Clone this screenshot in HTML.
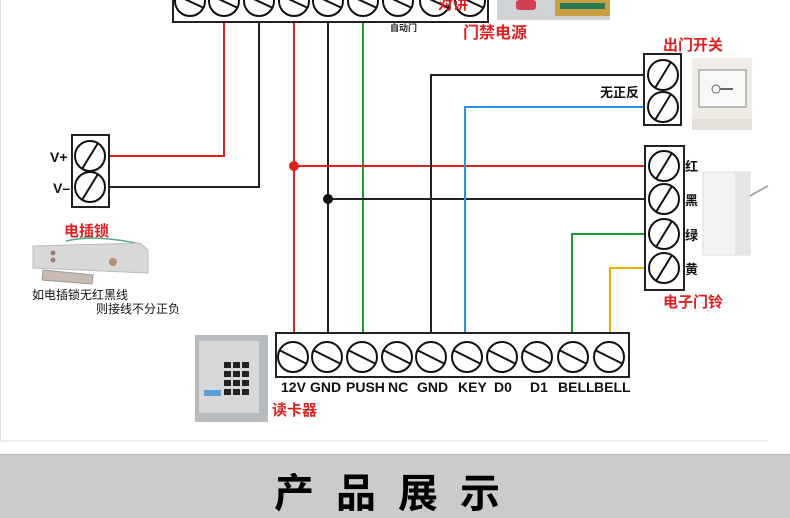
<!DOCTYPE html>
<html><head><meta charset="utf-8"><style>
html,body{margin:0;padding:0;background:#fff;}
body{width:790px;height:518px;overflow:hidden;position:relative;font-family:"Liberation Sans","Noto Sans CJK SC",sans-serif;}
svg{position:absolute;left:0;top:0;}
</style></head><body>
<svg width="790" height="518" viewBox="0 0 790 518" xmlns="http://www.w3.org/2000/svg" font-family="Liberation Sans, Noto Sans CJK SC, sans-serif">
<rect x="0" y="0" width="790" height="518" fill="#fff"/>
<line x1="0.5" y1="0" x2="0.5" y2="441" stroke="#ddd"/>
<line x1="0" y1="441" x2="768" y2="441" stroke="#e6e6e6" stroke-width="1.5"/>
<rect x="0" y="454" width="790" height="64" fill="#cbcbcb"/>
<line x1="0" y1="454.5" x2="790" y2="454.5" stroke="#bdbdbd"/>
<text x="398" y="507" font-size="40" font-weight="bold" text-anchor="middle" letter-spacing="22" fill="#000" font-family="Noto Sans CJK SC, sans-serif">产品展示</text>

<!-- wires -->
<g fill="none" stroke-width="2">
<polyline points="224,22 224,156 105,156" stroke="#e02020"/>
<polyline points="259,22 259,187 105,187" stroke="#222"/>
<line x1="294" y1="22" x2="294" y2="342" stroke="#e02020"/>
<line x1="328" y1="22" x2="328" y2="342" stroke="#222"/>
<line x1="363" y1="22" x2="363" y2="342" stroke="#1a9a2a"/>
<line x1="294" y1="166" x2="650" y2="166" stroke="#e02020"/>
<line x1="328" y1="199" x2="650" y2="199" stroke="#222"/>
<polyline points="431,342 431,75 650,75" stroke="#222"/>
<polyline points="465,342 465,107 650,107" stroke="#2a90e0"/>
<polyline points="572,342 572,234 650,234" stroke="#1a9a2a"/>
<polyline points="610,342 610,268 650,268" stroke="#f0b000"/>
</g>
<circle cx="294" cy="166" r="5" fill="#e02020"/>
<circle cx="328" cy="199" r="5" fill="#111"/>

<!-- top terminal strip -->
<rect x="173" y="-5" width="315" height="27" fill="#fff" stroke="#222" stroke-width="2"/>
<g fill="#fff" stroke="#111" stroke-width="2">
<circle cx="190" cy="1" r="15"/><circle cx="224" cy="1" r="15"/><circle cx="259" cy="1" r="15"/><circle cx="294" cy="1" r="15"/><circle cx="328" cy="1" r="15"/><circle cx="363" cy="1" r="15"/><circle cx="398" cy="1" r="15"/><circle cx="435" cy="1" r="15"/><circle cx="470" cy="1" r="15"/>
</g>
<g stroke="#111" stroke-width="2">
<line x1="176" y1="-5" x2="204" y2="8"/><line x1="210" y1="-5" x2="238" y2="8"/><line x1="245" y1="-5" x2="273" y2="8"/><line x1="280" y1="-5" x2="308" y2="8"/><line x1="314" y1="-5" x2="342" y2="8"/><line x1="349" y1="-5" x2="377" y2="8"/><line x1="384" y1="-5" x2="412" y2="8"/><line x1="421" y1="-5" x2="449" y2="8"/><line x1="456" y1="-5" x2="484" y2="8"/>
</g>
<text x="438" y="9" font-size="15" font-weight="bold" fill="#e02020">对讲</text>
<text x="390" y="31" font-size="9" font-weight="bold" fill="#222">自动门</text>
<text x="463" y="38" font-size="16" font-weight="bold" fill="#e02020">门禁电源</text>
<!-- power supply image -->
<rect x="497" y="0" width="113" height="20" fill="#cfd3d6"/>
<rect x="516" y="0" width="20" height="10" rx="3" fill="#d04050"/>
<rect x="555" y="0" width="55" height="16" fill="#c8a040"/>
<rect x="560" y="3" width="45" height="6" fill="#2a7a5a"/>

<!-- V+/V- -->
<rect x="72" y="135" width="37" height="72" fill="#fff" stroke="#222" stroke-width="2"/>
<g fill="none" stroke="#111" stroke-width="2">
<circle cx="90" cy="156" r="15"/><circle cx="90" cy="187" r="15"/>
<line x1="82" y1="169" x2="98" y2="143"/><line x1="82" y1="200" x2="98" y2="174"/>
</g>
<text x="50" y="162" font-size="14" font-weight="bold" fill="#111">V+</text>
<text x="53" y="193" font-size="14" font-weight="bold" fill="#111">V–</text>

<!-- lock -->
<text x="64" y="236" font-size="15" font-weight="bold" fill="#e02020">电插锁</text>
<path d="M66 241 Q95 234 140 244" stroke="#5a8" stroke-width="1.5" fill="none"/>
<path d="M33 246 L140 243 L148 250 L148 273 L33 268 Z" fill="#d8d8d8" stroke="#bbb"/>
<circle cx="53" cy="253" r="2.5" fill="#a08070"/><circle cx="53" cy="260" r="2.5" fill="#a08070"/>
<circle cx="113" cy="262" r="4" fill="#b09070"/>
<path d="M43 270 L93 275 L92 284 L42 280 Z" fill="#c8bcb2" stroke="#999"/>
<text x="32" y="299" font-size="12" fill="#111">如电插锁无红黑线</text>
<text x="96" y="313" font-size="12" fill="#111">则接线不分正负</text>

<!-- exit switch -->
<text x="663" y="50" font-size="15" font-weight="bold" fill="#e02020">出门开关</text>
<rect x="644" y="54" width="37" height="71" fill="#fff" stroke="#222" stroke-width="2"/>
<g fill="none" stroke="#111" stroke-width="2">
<circle cx="663" cy="75" r="15"/><circle cx="663" cy="107" r="15"/>
<line x1="655" y1="88" x2="671" y2="62"/><line x1="655" y1="120" x2="671" y2="94"/>
</g>
<text x="600" y="97" font-size="13" font-weight="bold" fill="#111">无正反</text>
<rect x="692" y="58" width="60" height="72" fill="#efece6"/>
<rect x="699" y="70" width="47" height="37" fill="#f8f8f6" stroke="#888"/>
<circle cx="716" cy="89" r="4" fill="none" stroke="#666"/>
<line x1="720" y1="89" x2="733" y2="89" stroke="#666" stroke-width="2"/>
<rect x="692" y="119" width="60" height="11" fill="#e4e0da"/>

<!-- bell -->
<rect x="645" y="146" width="39" height="144" fill="#fff" stroke="#222" stroke-width="2"/>
<g fill="none" stroke="#111" stroke-width="2">
<circle cx="664" cy="166" r="15"/><circle cx="664" cy="199" r="15"/><circle cx="664" cy="234" r="15"/><circle cx="664" cy="268" r="15"/>
<line x1="656" y1="179" x2="672" y2="153"/><line x1="656" y1="212" x2="672" y2="186"/><line x1="656" y1="247" x2="672" y2="221"/><line x1="656" y1="281" x2="672" y2="255"/>
</g>
<g font-size="13" font-weight="bold" fill="#111">
<text x="685" y="171">红</text><text x="685" y="205">黑</text><text x="685" y="240">绿</text><text x="685" y="274">黄</text>
</g>
<text x="663" y="307" font-size="15" font-weight="bold" fill="#e02020">电子门铃</text>
<rect x="703" y="172" width="47" height="83" fill="#f3f3f3" stroke="#ddd"/>
<rect x="735" y="172" width="15" height="83" fill="#e6e6e6"/>
<path d="M750 196 Q760 190 768 186" stroke="#aaa" stroke-width="2" fill="none"/>

<!-- bottom strip -->
<rect x="276" y="333" width="353" height="44" fill="#fff" stroke="#222" stroke-width="2"/>
<g fill="none" stroke="#111" stroke-width="2">
<circle cx="293" cy="357" r="15"/><circle cx="327" cy="357" r="15"/><circle cx="362" cy="357" r="15"/><circle cx="397" cy="357" r="15"/><circle cx="431" cy="357" r="15"/><circle cx="467" cy="357" r="15"/><circle cx="502" cy="357" r="15"/><circle cx="537" cy="357" r="15"/><circle cx="573" cy="357" r="15"/><circle cx="609" cy="357" r="15"/>
<line x1="279" y1="350" x2="307" y2="364"/><line x1="313" y1="350" x2="341" y2="364"/><line x1="348" y1="350" x2="376" y2="364"/><line x1="383" y1="350" x2="411" y2="364"/><line x1="417" y1="350" x2="445" y2="364"/><line x1="453" y1="350" x2="481" y2="364"/><line x1="488" y1="350" x2="516" y2="364"/><line x1="523" y1="350" x2="551" y2="364"/><line x1="559" y1="350" x2="587" y2="364"/><line x1="595" y1="350" x2="623" y2="364"/>
</g>
<g font-size="14" fill="#111" font-weight="bold">
<text x="281" y="392">12V</text><text x="310" y="392">GND</text><text x="346" y="392">PUSH</text><text x="388" y="392">NC</text><text x="417" y="392">GND</text><text x="458" y="392">KEY</text><text x="494" y="392">D0</text><text x="530" y="392">D1</text><text x="558" y="392">BELL</text><text x="594" y="392">BELL</text>
</g>
<text x="272" y="415" font-size="15" font-weight="bold" fill="#e02020">读卡器</text>
<!-- card reader -->
<rect x="195" y="335" width="73" height="87" fill="#b8bbbe"/>
<rect x="199" y="341" width="60" height="72" fill="#d6d8da"/>
<g fill="#222">
<rect x="224" y="362" width="7" height="6"/><rect x="233" y="362" width="7" height="6"/><rect x="242" y="362" width="7" height="6"/>
<rect x="224" y="371" width="7" height="6"/><rect x="233" y="371" width="7" height="6"/><rect x="242" y="371" width="7" height="6"/>
<rect x="224" y="380" width="7" height="6"/><rect x="233" y="380" width="7" height="6"/><rect x="242" y="380" width="7" height="6"/>
<rect x="224" y="389" width="7" height="6"/><rect x="233" y="389" width="7" height="6"/><rect x="242" y="389" width="7" height="6"/>
</g>
<rect x="204" y="390" width="17" height="6" fill="#5aa0d8"/>
</svg>
</body></html>
